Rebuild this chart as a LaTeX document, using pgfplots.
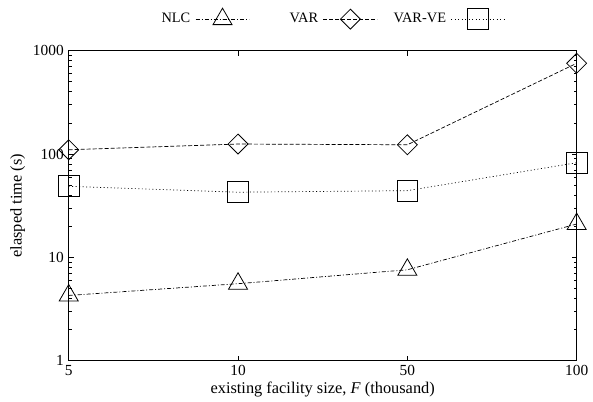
\documentclass[border=0pt]{standalone}
\usepackage{fontspec}
\setmainfont{Liberation Serif}
\usepackage{pgfplots}
\pgfplotsset{compat=1.18}
\newlength\lw
\begin{document}
\fontsize{14.5}{17}\selectfont
\settowidth{\lw}{VAR-VE}%
\begin{tikzpicture}
\begin{axis}[
  scale only axis, width=510bp, height=311bp,
  ymode=log, ymin=1, ymax=1000, xmin=0, xmax=3,
  xtick={0,1,2,3}, xticklabels={5,10,50,100},
  ytick={1,10,100,1000}, yticklabels={1,10,100,1000},
  minor ytick={2,3,4,5,6,7,8,9,20,30,40,50,60,70,80,90,200,300,400,500,600,700,800,900},
  minor xtick={},
  tick align=inside, major tick length=5bp, minor tick length=3bp,
  axis line style={line width=1.1bp},
  every tick/.style={line width=0.8bp, black},
  /pgf/number format/assume math mode=true,
  ticklabel style={font=\fontsize{15.5}{18}\selectfont},
  label style={font=\fontsize{16.5}{19}\selectfont},
  xlabel={existing facility size, \textit{F} (thousand)},
  ylabel={elasped time (s)},
  xlabel style={yshift=4bp},
  ylabel style={yshift=-2bp},
  clip=false,
  legend columns=3,
  legend plot pos=right,
  legend style={at={(0.496,1.103)}, anchor=center, draw=none, fill=none,
    font=\fontsize{14.5}{17}\selectfont,
    /tikz/every odd column/.append style={column sep=3bp},
    /tikz/every even column/.append style={column sep=14bp}},
  legend image code/.code={\draw[mark repeat=2,mark phase=2] plot coordinates {(0bp,0bp)(27bp,0bp)(54bp,0bp)};},
]
\addplot[black, line width=0.7bp, dash pattern=on 4bp off 2bp on 1bp off 2bp,
  mark=triangle, mark size=11bp, mark options={solid, line width=0.8bp}]
  coordinates {(0,4.27) (1,5.55) (2,7.57) (3,21)};
\addlegendentry{\makebox[\lw][r]{NLC}}
\addplot[black, line width=0.7bp, dash pattern=on 4bp off 2bp,
  mark=diamond, mark size=10bp, mark options={solid, line width=0.8bp, xscale=1.333}]
  coordinates {(0,110) (1,125) (2,123) (3,757)};
\addlegendentry{\makebox[\lw][r]{VAR}}
\addplot[black, line width=0.7bp, dash pattern=on 1bp off 2.5bp,
  mark=square, mark size=10.5bp, mark options={solid, line width=0.8bp}]
  coordinates {(0,48.7) (1,42.7) (2,44.2) (3,82.4)};
\addlegendentry{\makebox[\lw][r]{VAR-VE}}
\path (rel axis cs:-0.1353,-0.1245) rectangle (rel axis cs:1.0275,1.164);
\end{axis}
\end{tikzpicture}
\end{document}
